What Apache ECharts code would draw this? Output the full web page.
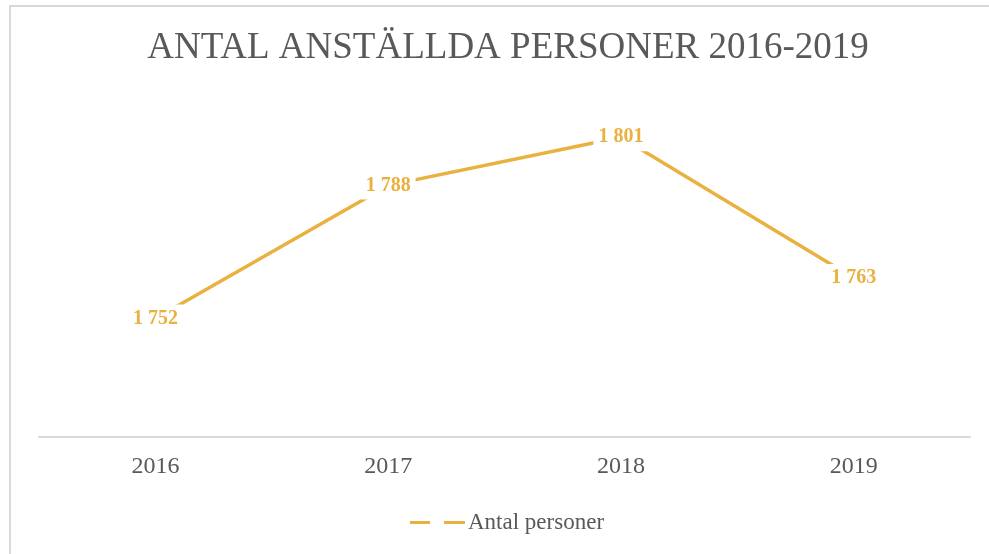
<!DOCTYPE html>
<html>
<head>
<meta charset="utf-8">
<script src="https://cdn.jsdelivr.net/npm/echarts@6/dist/echarts.min.js"></script>
<style>
  html, body { margin: 0; padding: 0; background: #fff; }
  #chart { width: 989px; height: 554px; }
</style>
</head>
<body>
<div id="chart"></div>
<script>
// Anställda per år
const years = ['2016', '2017', '2018', '2019'];
const employees = [1752, 1788, 1801, 1763];
const seriesName = 'Antal personer';
const titleText = 'ANTAL ANSTÄLLDA PERSONER 2016-2019';

const gold = '#E9B13F';
const grey = '#595959';
const serif = '"Liberation Serif", "DejaVu Serif", serif';

const chart = echarts.init(document.getElementById('chart'), null, { renderer: 'canvas' });

chart.setOption({
  backgroundColor: '#fff',
  animation: false,
  graphic: [{
    type: 'rect',
    shape: { x: 10, y: 6, width: 1200, height: 800 },
    style: { fill: 'none', stroke: '#d9d9d9', lineWidth: 2 },
    silent: true
  }],
  title: {
    text: titleText,
    left: 503,
    top: 25,
    textAlign: 'center',
    textStyle: { fontFamily: serif, fontSize: 37, fontWeight: 'normal', color: grey }
  },
  grid: { left: 39, right: 19, top: 104, bottom: 117 },
  xAxis: {
    type: 'category',
    data: years,
    boundaryGap: true,
    axisLine: { lineStyle: { color: '#d9d9d9', width: 2 } },
    axisTick: { show: false },
    axisLabel: { fontFamily: serif, fontSize: 24, color: grey, margin: 18 }
  },
  yAxis: {
    type: 'value',
    min: 1720,
    max: 1810,
    show: false,
    splitLine: { show: false }
  },
  legend: {
    data: [seriesName],
    bottom: 15,
    left: 405,
    icon: 'path://M0,0h20v3h-20z M34,0h21v3h-21z',
    itemWidth: 55,
    itemHeight: 4,
    itemGap: 4,
    textStyle: { fontFamily: serif, fontSize: 23, color: grey, padding: [0, 0, 0, -2] }
  },
  series: [{
    name: seriesName,
    type: 'line',
    data: employees,
    symbol: 'circle',
    symbolSize: 1,
    showSymbol: true,
    lineStyle: { color: gold, width: 3.5 },
    itemStyle: { color: gold },
    label: {
      show: true,
      position: 'inside',
      formatter: p => String(p.value).replace(/\B(?=(\d{3})+(?!\d))/g, ' '),
      fontFamily: serif,
      fontSize: 20,
      fontWeight: 'bold',
      color: gold,
      backgroundColor: '#fff',
      padding: [4, 5, 4, 5]
    },
    labelLayout: { hideOverlap: false }
  }]
});
</script>
</body>
</html>
